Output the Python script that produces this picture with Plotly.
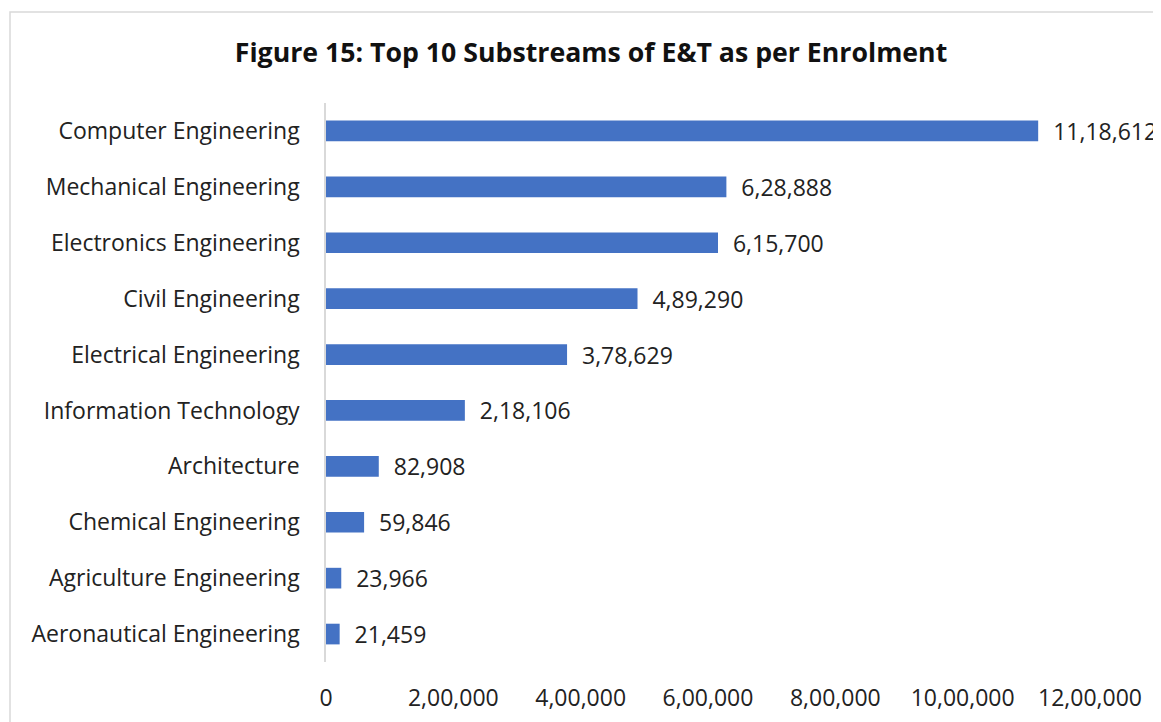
import plotly.graph_objects as go

categories = ["Computer Engineering", "Mechanical Engineering", "Electronics Engineering",
              "Civil Engineering", "Electrical Engineering", "Information Technology",
              "Architecture", "Chemical Engineering", "Agriculture Engineering",
              "Aeronautical Engineering"]
values = [1118612, 628888, 615700, 489290, 378629, 218106, 82908, 59846, 23966, 21459]
value_labels = ["11,18,612", "6,28,888", "6,15,700", "4,89,290", "3,78,629",
                "2,18,106", "82,908", "59,846", "23,966", "21,459"]
tick_vals = [0, 200000, 400000, 600000, 800000, 1000000, 1200000]
tick_text = ["0", "2,00,000", "4,00,000", "6,00,000", "8,00,000", "10,00,000", "12,00,000"]

OFF = 8  # default page margin
W, H = 1161 - OFF, 722 - OFF
L, R, T, B = 326 - OFF, 1090 - OFF, 103 - OFF, 662 - OFF
FONT = "Open Sans"
FS = 23
TXT = "#222222"

fig = go.Figure(go.Bar(
    y=categories, x=values, orientation="h",
    marker=dict(color="#4472C4", line=dict(width=0)),
    width=0.37,
    text=["  " + t for t in value_labels], textposition="outside",
    constraintext="none",
    textfont=dict(family=FONT, size=FS, color=TXT),
    cliponaxis=False,
))

pw, ph = R - L, B - T
fig.add_shape(type="rect", xref="paper", yref="paper",
              x0=(10 - OFF - L) / pw, x1=(1190 - L) / pw,
              y0=(B - 760) / ph, y1=(B - (12 - OFF)) / ph,
              line=dict(color="#d9d9d9", width=1.5), fillcolor="rgba(0,0,0,0)")

fig.update_layout(
    width=W, height=H,
    margin=dict(l=L, r=W - R, t=T, b=H - B, pad=0, autoexpand=False),
    paper_bgcolor="white", plot_bgcolor="white",
    showlegend=False,
    title=dict(text="<b>Figure 15: Top 10 Substreams of E&T as per Enrolment</b>",
               x=(591 - OFF) / W, xanchor="center", y=1 - (53 - OFF) / H, yanchor="middle",
               font=dict(family=FONT, size=26.7, color="#111111")),
    font=dict(family=FONT, size=FS, color=TXT),
    bargap=0.63,
)
fig.update_xaxes(range=[0, 1200000], tickvals=tick_vals, ticktext=tick_text,
                 showgrid=False, zeroline=False, showline=False, automargin=False,
                 ticks="outside", ticklen=15, tickcolor="rgba(0,0,0,0)",
                 tickfont=dict(family=FONT, size=FS, color=TXT))
fig.update_yaxes(categoryorder="array", categoryarray=categories[::-1],
                 showgrid=False, zeroline=False, showline=True, automargin=False,
                 linecolor="#d9d9d9", linewidth=1.5,
                 ticks="outside", ticklen=20, tickcolor="rgba(0,0,0,0)",
                 tickfont=dict(family=FONT, size=FS, color=TXT))

fig.write_html("out.html")
